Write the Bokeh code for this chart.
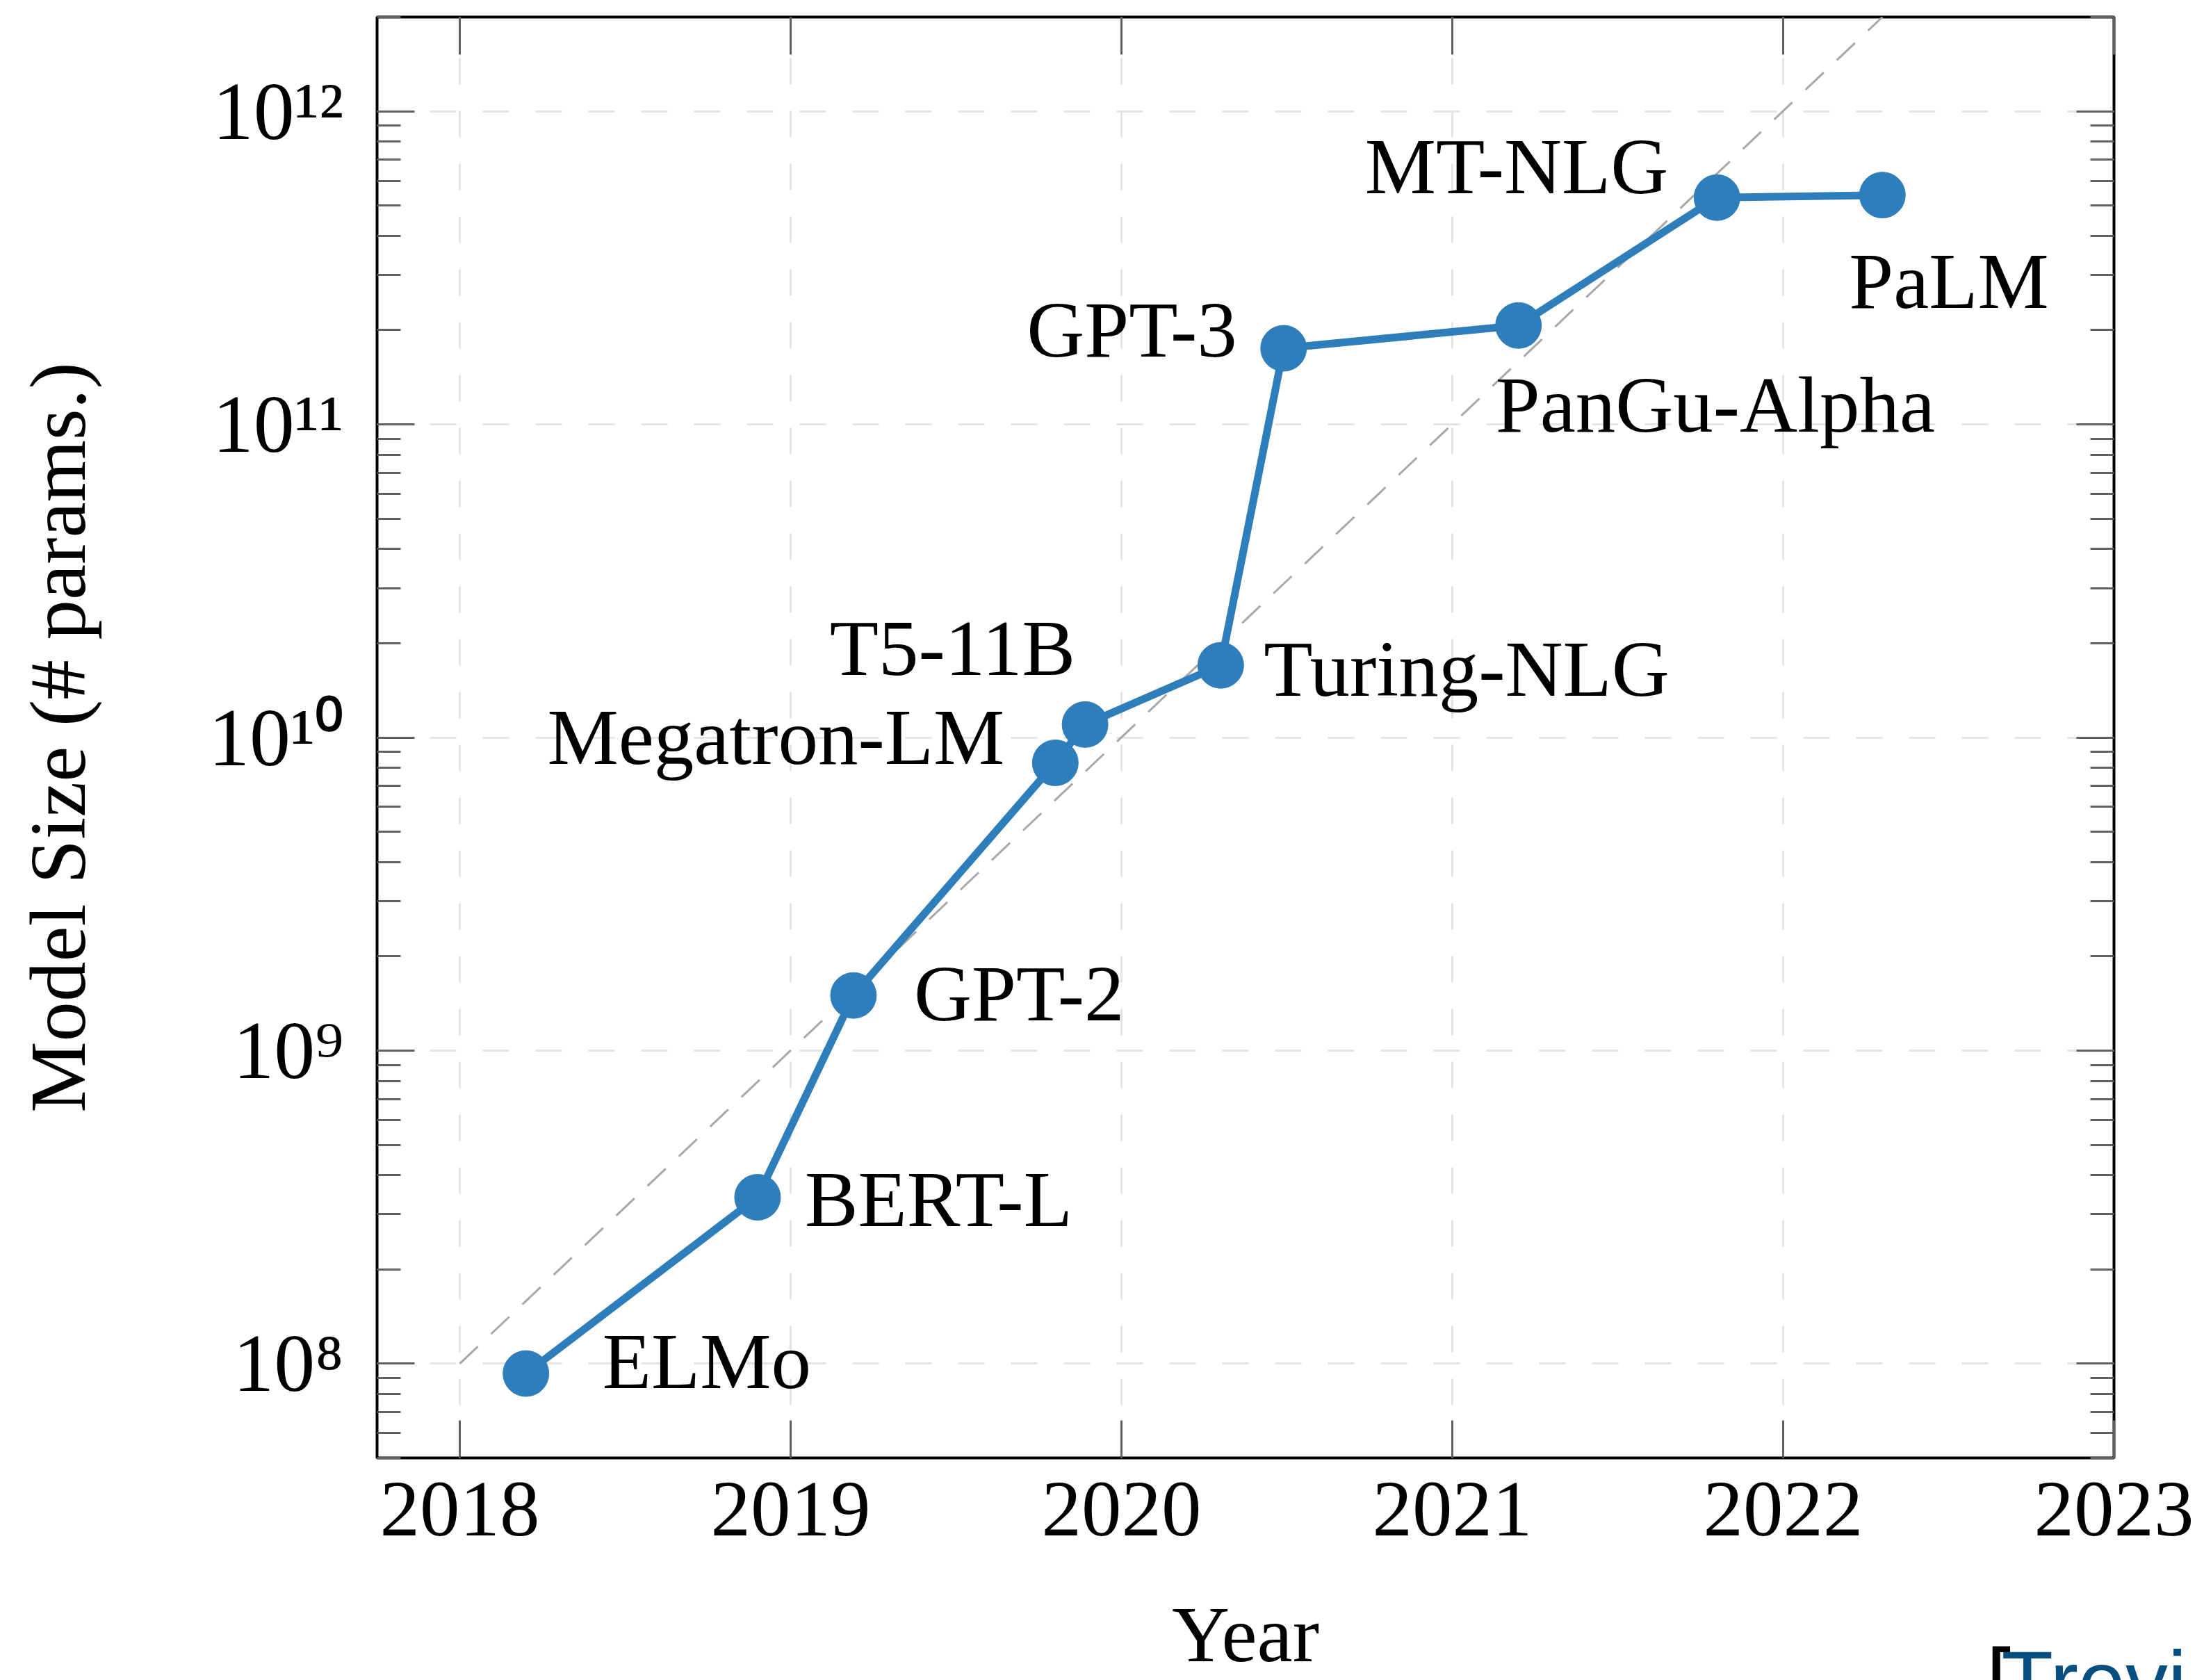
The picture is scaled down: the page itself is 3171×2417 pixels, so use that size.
from bokeh.plotting import figure
from bokeh.models import (LogAxis, LinearAxis, FixedTicker, LogTicker, CustomJSTickFormatter,
                          ColumnDataSource, Range1d, Title)
from bokeh.embed import file_html
from bokeh.resources import INLINE
from bokeh.core.properties import value

# ---------------- data ----------------
models = ["ELMo", "BERT-L", "GPT-2", "Megatron-LM", "T5-11B", "Turing-NLG",
          "GPT-3", "PanGu-Alpha", "MT-NLG", "PaLM"]
release_year = [2018.20, 2018.90, 2019.19, 2019.80, 2019.89, 2020.30,
                2020.49, 2021.20, 2021.80, 2022.30]
params = [9.3e7, 3.4e8, 1.5e9, 8.3e9, 1.1e10, 1.7e10,
          1.75e11, 2.07e11, 5.3e11, 5.4e11]

trend_year = [2018.0, 2022.3]
trend_params = [1e8, 2e12]

x_ticks = [2018, 2019, 2020, 2021, 2022, 2023]
x_tick_labels = ["2018", "2019", "2020", "2021", "2022", "2023"]
y_ticks = [1e8, 1e9, 1e10, 1e11, 1e12]
y_tick_labels = ["10⁸", "10⁹", "10¹⁰", "10¹¹", "10¹²"]

x_title = "Year"
y_title = "Model Size (# params.)"
watermark = "Trevi"

# ---------------- label placement (styles, screen px) ----------------
label_align = ["left", "left", "left", "right", "right", "left",
               "right", "left", "right", "left"]
label_dx = [110, 68, 87, -73, -14, 62, -67, -33, -70, -48]
label_dy = [-18, 3, -3, -37, -110, 5, -27, 114, -45, 124]

SERIF = "Liberation Serif"
BLUE = "#2f7ebc"
TICK = "#606060"

p = figure(width=3171, height=2417,
           x_range=Range1d(2017.75, 2023.0), y_range=Range1d(5e7, 2e12),
           y_axis_type="log", output_backend="svg", toolbar_location=None,
           min_border_left=542, min_border_right=130,
           min_border_top=24, min_border_bottom=318,
           background_fill_color="white", border_fill_color="white")

p.outline_line_color = "black"
p.outline_line_width = 4

# grids
p.xgrid.ticker = FixedTicker(ticks=x_ticks)
for g in (p.xgrid, p.ygrid):
    g.grid_line_color = "#e4e4e4"
    g.grid_line_width = 3
    g.grid_line_dash = "38 38"

xfmt = CustomJSTickFormatter(args=dict(vals=x_ticks, labs=x_tick_labels), code="""
for (let i = 0; i < vals.length; i++) { if (Math.abs(tick - vals[i]) < 1e-6) return labs[i]; }
return "";
""")
yfmt = CustomJSTickFormatter(args=dict(vals=y_ticks, labs=y_tick_labels), code="""
for (let i = 0; i < vals.length; i++) {
  if (Math.abs(Math.log10(tick) - Math.log10(vals[i])) < 1e-6) return labs[i];
}
return "";
""")
blank = CustomJSTickFormatter(code="return '';")

def style_axis(ax):
    ax.axis_line_color = None
    ax.major_tick_in = 54
    ax.major_tick_out = 0
    ax.minor_tick_in = 34
    ax.minor_tick_out = 0
    ax.major_tick_line_color = TICK
    ax.major_tick_line_width = 3
    ax.minor_tick_line_color = TICK
    ax.minor_tick_line_width = 3
    ax.major_label_text_font = SERIF
    ax.major_label_text_color = "black"
    ax.axis_label_text_font = SERIF
    ax.axis_label_text_font_style = "normal"
    ax.axis_label_text_color = "black"

# bottom x axis
xa = p.xaxis[0]
xa.ticker = FixedTicker(ticks=x_ticks, minor_ticks=[])
xa.formatter = xfmt
style_axis(xa)
xa.major_label_text_font_size = "115px"
xa.major_label_standoff = 36
xa.axis_label = x_title
xa.axis_label_text_font_size = "115px"
xa.axis_label_standoff = 76

# left y axis
ya = p.yaxis[0]
ya.ticker = LogTicker(num_minor_ticks=10)
ya.formatter = yfmt
style_axis(ya)
ya.major_label_text_font_size = "118px"
ya.major_label_standoff = 48
ya.axis_label = y_title
ya.axis_label_text_font_size = "115px"
ya.axis_label_standoff = 150

# mirrored top / right axes (ticks only)
top = LinearAxis(ticker=FixedTicker(ticks=x_ticks, minor_ticks=[]), formatter=blank)
style_axis(top)
top.major_label_text_font_size = "0px"
top.major_label_standoff = 0
p.add_layout(top, "above")

right = LogAxis(ticker=LogTicker(num_minor_ticks=10), formatter=blank)
style_axis(right)
right.major_label_text_font_size = "0px"
right.major_label_standoff = 0
p.add_layout(right, "right")

# trend line
p.line(trend_year, trend_params, line_color="#a8a8a8", line_width=3, line_dash="36 26")

# main series
src = ColumnDataSource(dict(x=release_year, y=params, name=models,
                            align=label_align, dx=label_dx, dy=label_dy))
p.line("x", "y", source=src, line_color=BLUE, line_width=11)
p.scatter("x", "y", source=src, size=66, fill_color=BLUE, line_color=BLUE)
p.text("x", "y", text="name", source=src, x_offset="dx", y_offset="dy",
       text_align="align", text_baseline="alphabetic",
       text_font=value(SERIF), text_font_size="115px", text_color="black")

# watermark fragment at bottom-right: titles in the bottom panel, with a
# negative standoff so that they take no room in the layout
p.add_layout(Title(text="⌈", align="left", offset=2314, vertical_align="bottom",
                   standoff=-144, text_font="DejaVu Sans", text_font_size="122px",
                   text_font_style="normal", text_color="black"), "below")
p.add_layout(Title(text=watermark, align="left", offset=2337, vertical_align="bottom",
                   standoff=-138, text_font="Liberation Sans", text_font_size="122px",
                   text_font_style="normal", text_color="#064f80"), "below")

open("out.html", "w").write(file_html(p, INLINE))
